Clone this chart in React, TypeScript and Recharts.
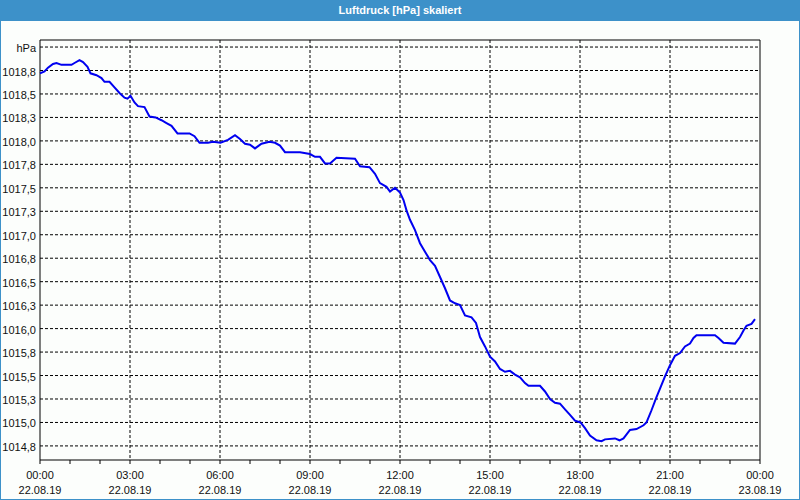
import { LineChart, Line, XAxis, YAxis, CartesianGrid, ReferenceArea } from 'recharts'

// minutes since 22.08.19 00:00
const minutes = [
  0, 9, 16, 26, 33, 43, 63, 69, 79, 86, 95, 101, 113, 123, 129, 139, 149, 159, 169, 175,
  181, 189, 196, 209, 219, 231, 243, 253, 263, 275, 299, 309, 319, 336, 346, 361, 376, 390, 400, 410,
  420, 430, 443, 459, 470, 480, 490, 520, 540, 550, 560, 570, 580, 593, 630, 640, 659, 670, 680, 693,
  700, 710, 720, 727, 733, 740, 750, 760, 770, 780, 790, 800, 810, 820, 830, 840, 850, 863, 872, 880,
  890, 900, 910, 920, 930, 940, 950, 960, 970, 977, 1000, 1010, 1020, 1030, 1040, 1050, 1060, 1070, 1081, 1090,
  1100, 1113, 1123, 1130, 1150, 1159, 1167, 1180, 1193, 1207, 1213, 1223, 1233, 1240, 1250, 1260, 1270, 1280, 1290, 1300,
  1307, 1313, 1350, 1357, 1367, 1390, 1400, 1407, 1413, 1423, 1430,
]

const pressure = [
  1018.72, 1018.74, 1018.78, 1018.82, 1018.83, 1018.81, 1018.81, 1018.83, 1018.86, 1018.84, 1018.79, 1018.72, 1018.7, 1018.67, 1018.63, 1018.63, 1018.57, 1018.51, 1018.46, 1018.45,
  1018.48, 1018.41, 1018.37, 1018.36, 1018.26, 1018.25, 1018.22, 1018.19, 1018.16, 1018.08, 1018.08, 1018.05, 1017.98, 1017.98, 1017.99, 1017.98, 1018.01, 1018.06, 1018.02, 1017.97,
  1017.96, 1017.92, 1017.97, 1017.99, 1017.98, 1017.95, 1017.88, 1017.88, 1017.86, 1017.83, 1017.83, 1017.76, 1017.76, 1017.82, 1017.81, 1017.73, 1017.72, 1017.65, 1017.55, 1017.51,
  1017.46, 1017.5, 1017.45, 1017.37, 1017.26, 1017.16, 1017.05, 1016.91, 1016.82, 1016.73, 1016.67, 1016.55, 1016.43, 1016.3, 1016.27, 1016.25, 1016.14, 1016.12, 1016.06, 1015.91,
  1015.81, 1015.7, 1015.65, 1015.57, 1015.54, 1015.55, 1015.51, 1015.48, 1015.42, 1015.39, 1015.39, 1015.33, 1015.25, 1015.21, 1015.2, 1015.14, 1015.08, 1015.02, 1015.0, 1014.94,
  1014.86, 1014.81, 1014.8, 1014.82, 1014.83, 1014.81, 1014.83, 1014.92, 1014.93, 1014.97, 1015.0, 1015.13, 1015.27, 1015.36, 1015.49, 1015.61, 1015.71, 1015.74, 1015.81, 1015.84,
  1015.9, 1015.93, 1015.93, 1015.9, 1015.85, 1015.84, 1015.91, 1015.98, 1016.03, 1016.05, 1016.1,
]

const yTicks = [
  1014.75, 1015, 1015.25, 1015.5, 1015.75, 1016, 1016.25, 1016.5, 1016.75,
  1017, 1017.25, 1017.5, 1017.75, 1018, 1018.25, 1018.5, 1018.75, 1019,
]
const Y_DOMAIN = [1014.6, 1019.075]

const hourTicks = [
  0, 60, 120, 180, 240, 300, 360, 420, 480, 540, 600, 660, 720,
  780, 840, 900, 960, 1020, 1080, 1140, 1200, 1260, 1320, 1380, 1440,
]
const labelTicks = [0, 180, 360, 540, 720, 900, 1080, 1260, 1440]
const gridTicks = [180, 360, 540, 720, 900, 1080, 1260]
const timeLabels = ['00:00', '03:00', '06:00', '09:00', '12:00', '15:00', '18:00', '21:00', '00:00']
const dateLabels = ['22.08.19', '22.08.19', '22.08.19', '22.08.19', '22.08.19', '22.08.19', '22.08.19', '22.08.19', '23.08.19']

const FONT = '"Liberation Sans", Arial, sans-serif'

const data = minutes.map((t, i) => ({ t, p: pressure[i] }))

function XTick({ x, y, payload }: any) {
  const i = labelTicks.indexOf(payload.value)
  if (i < 0) return <g />
  return (
    <g>
      <text x={x} y={y + 15} textAnchor="middle" fontSize={11} fontFamily={FONT} fill="#111">
        {timeLabels[i]}
      </text>
      <text x={x} y={y + 30} textAnchor="middle" fontSize={11} fontFamily={FONT} fill="#111">
        {dateLabels[i]}
      </text>
    </g>
  )
}

function YTick({ x, y, payload }: any) {
  const v = payload.value
  const label = v === 1019 ? 'hPa' : v.toFixed(1).replace('.', ',')
  return (
    <text x={x} y={y + 5} textAnchor="end" fontSize={11} fontFamily={FONT} fill="#111">
      {label}
    </text>
  )
}

export default function App() {
  return (
    <div
      style={{
        position: 'absolute',
        left: 0,
        top: 0,
        width: 800,
        height: 500,
        background: '#fcfefc',
        boxSizing: 'border-box',
        border: '1px solid #3d91c9',
        borderTop: 'none',
      }}
    >
      <div
        style={{
          position: 'absolute',
          left: -1,
          top: 0,
          width: 800,
          height: 21,
          background: '#3d91c9',
          color: '#fff',
          fontFamily: FONT,
          fontWeight: 'bold',
          fontSize: 11,
          lineHeight: '21px',
          textAlign: 'center',
        }}
      >
        Luftdruck [hPa] skaliert
      </div>
      <div style={{ position: 'absolute', left: -1, top: 0 }}>
        <LineChart width={800} height={500} data={data} margin={{ top: 40, right: 40, bottom: 0, left: 0 }}>
          <CartesianGrid
            stroke="#000"
            strokeDasharray="3 2"
            horizontalValues={yTicks}
            verticalValues={gridTicks}
          />
          <XAxis
            dataKey="t"
            type="number"
            domain={[0, 1440]}
            ticks={hourTicks}
            interval={0}
            height={40}
            axisLine={false}
            tickLine={{ stroke: '#000' }}
            tickSize={4}
            tickMargin={0}
            tick={<XTick />}
          />
          <YAxis
            type="number"
            domain={Y_DOMAIN}
            ticks={yTicks}
            interval={0}
            allowDataOverflow
            width={40}
            axisLine={false}
            tickLine={false}
            tickSize={0}
            tickMargin={4}
            tick={<YTick />}
          />
          <ReferenceArea
            x1={0}
            x2={1440}
            y1={Y_DOMAIN[0]}
            y2={Y_DOMAIN[1]}
            fill="none"
            stroke="#000"
            strokeWidth={1}
            ifOverflow="visible"
          />
          <Line
            type="linear"
            dataKey="p"
            stroke="#0000f0"
            strokeWidth={2}
            dot={false}
            isAnimationActive={false}
          />
        </LineChart>
      </div>
    </div>
  )
}
